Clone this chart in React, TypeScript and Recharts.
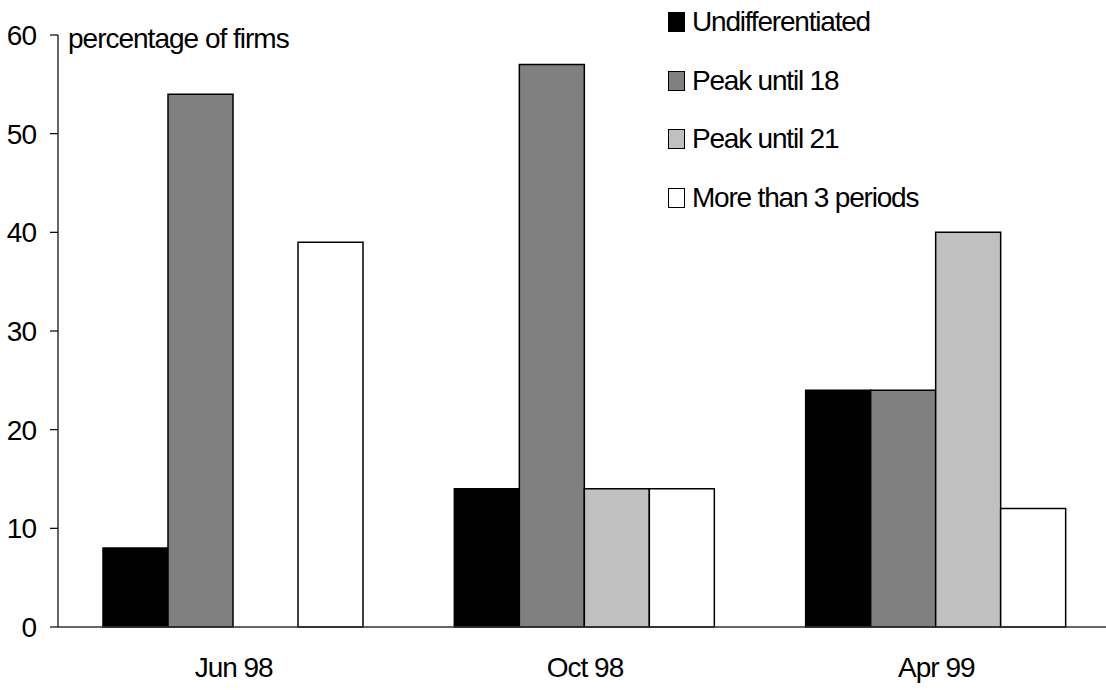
import { BarChart, Bar, XAxis, YAxis } from 'recharts';

const periods = ['Jun 98', 'Oct 98', 'Apr 99'];
const undifferentiated = [8, 14, 24];
const peakUntil18 = [54, 57, 24];
const peakUntil21 = [0, 14, 40];
const moreThan3 = [39, 14, 12];
const yTicks = [0, 10, 20, 30, 40, 50, 60];

const seriesList = [
  { key: 'undiff', name: 'Undifferentiated', values: undifferentiated, fill: '#000000' },
  { key: 'peak18', name: 'Peak until 18', values: peakUntil18, fill: '#808080' },
  { key: 'peak21', name: 'Peak until 21', values: peakUntil21, fill: '#c0c0c0' },
  { key: 'more3', name: 'More than 3 periods', values: moreThan3, fill: '#ffffff' },
];

const rows = periods.map((p, i) => {
  const row: Record<string, string | number> = { period: p };
  seriesList.forEach(s => { row[s.key] = s.values[i]; });
  return row;
});

const FONT = '"Liberation Sans", Arial, sans-serif';
const tickStyle = { fontSize: 28, fill: '#000', fontFamily: FONT, letterSpacing: -1 };

// legend drawn as an overlay so it does not push the plot down
const LegendBox = () => (
  <div style={{
    position: 'absolute', left: 668, top: -7, fontFamily: FONT, fontSize: 28,
    letterSpacing: -1.2, color: '#000', whiteSpace: 'nowrap',
  }}>
    {seriesList.map(s => (
      <div key={s.key} style={{ display: 'flex', alignItems: 'center', height: 58.5 }}>
        <span style={{
          display: 'inline-block', width: 15, height: 18, background: s.fill,
          border: '1.5px solid #000', marginRight: 7,
        }} />
        <span>{s.name}</span>
      </div>
    ))}
  </div>
);

const App = () => {
  return (
    <div style={{ position: 'absolute', left: 0, top: 0, width: 1106, height: 690, overflow: 'hidden', background: '#fff' }}>
      <BarChart
        width={1112}
        height={690}
        data={rows}
        margin={{ top: 35, right: 0, left: 0, bottom: 0 }}
        barCategoryGap={45}
        barGap={0}
      >
        <XAxis
          dataKey="period"
          tick={tickStyle}
          tickLine={false}
          axisLine={{ stroke: '#333', strokeWidth: 1.5 }}
          height={63}
          tickMargin={24}
        />
        <YAxis
          domain={[0, 60]}
          ticks={yTicks}
          tick={tickStyle}
          width={58}
          tickSize={8}
          tickMargin={14}
          axisLine={{ stroke: '#000', strokeWidth: 1.2 }}
          tickLine={{ stroke: '#000', strokeWidth: 1.2 }}
        />
        {seriesList.map(s => (
          <Bar
            key={s.key}
            dataKey={s.key}
            name={s.name}
            fill={s.fill}
            stroke="#000"
            strokeWidth={1.5}
            isAnimationActive={false}
          />
        ))}
      </BarChart>
      <LegendBox />
      <div style={{
        position: 'absolute', left: 68, top: 25, fontFamily: FONT, fontSize: 28,
        lineHeight: '28px', letterSpacing: -1, whiteSpace: 'nowrap',
      }}>
        percentage of firms
      </div>
    </div>
  );
};

export default App;
